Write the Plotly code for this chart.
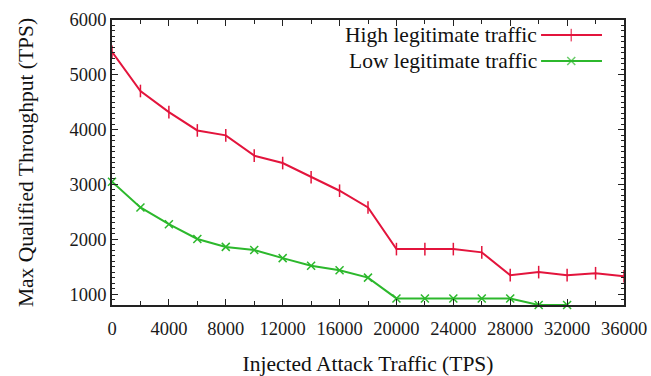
import plotly.graph_objects as go

x_attack = [0, 2000, 4000, 6000, 8000, 10000, 12000, 14000, 16000, 18000,
            20000, 22000, 24000, 26000, 28000, 30000, 32000, 34000, 36000]
high_traffic = [5420, 4705, 4320, 3985, 3895, 3525, 3390, 3130, 2885, 2580,
                1820, 1820, 1820, 1760, 1345, 1400, 1345, 1380, 1325]
x_attack_low = [0, 2000, 4000, 6000, 8000, 10000, 12000, 14000, 16000, 18000,
                20000, 22000, 24000, 26000, 28000, 30000, 32000]
low_traffic = [3050, 2580, 2275, 2005, 1860, 1805, 1655, 1515, 1435, 1300,
               920, 920, 920, 920, 920, 800, 800]
series_names = ["High legitimate traffic", "Low legitimate traffic"]
x_ticks = [0, 4000, 8000, 12000, 16000, 20000, 24000, 28000, 32000, 36000]
y_ticks = [1000, 2000, 3000, 4000, 5000, 6000]

RED = "#e3143c"
GREEN = "#2cb82c"
FONT = "Liberation Serif"

fig = go.Figure()
fig.add_trace(go.Scatter(x=x_attack, y=high_traffic, mode="lines+markers",
                         line=dict(color=RED, width=2),
                         marker=dict(symbol="line-ns", size=9, line=dict(color=RED, width=1.5)),
                         showlegend=False, cliponaxis=False))
fig.add_trace(go.Scatter(x=x_attack_low, y=low_traffic, mode="lines+markers",
                         line=dict(color=GREEN, width=2),
                         marker=dict(symbol="x-thin", size=8, line=dict(color=GREEN, width=1.5)),
                         showlegend=False, cliponaxis=False))

# manual legend (text right-aligned, sample to the right, gnuplot style)
leg_y = [0.947, 0.856]
for name, col, sym, sz, yy in [(series_names[0], RED, "line-ns", 9, leg_y[0]),
                               (series_names[1], GREEN, "x-thin", 8, leg_y[1])]:
    fig.add_annotation(xref="paper", yref="paper", x=0.834, y=yy, text=name,
                       showarrow=False, xanchor="right", yanchor="middle",
                       font=dict(family=FONT, size=21.5, color="#111"))
    fig.add_trace(go.Scatter(x=[0.838, 0.897, 0.957], y=[yy, yy, yy], xaxis="x2", yaxis="y2",
                             mode="lines+markers", line=dict(color=col, width=2),
                             marker=dict(symbol=sym, size=[0, sz, 0],
                                         line=dict(color=col, width=1.5)),
                             showlegend=False, hoverinfo="skip"))

axis_common = dict(showline=True, linecolor="#222", linewidth=1.5, mirror="ticks",
                   ticks="inside", ticklen=6, tickwidth=1.2, tickcolor="#222",
                   showgrid=False, zeroline=False, automargin=False,
                   tickfont=dict(family=FONT, size=18.5, color="#1a1a1a"))

fig.update_layout(
    width=651, height=376,
    margin=dict(l=112, r=27, t=20, b=71),
    paper_bgcolor="white", plot_bgcolor="white",
    xaxis=dict(range=[0, 36000], tickvals=x_ticks, ticktext=[str(v) for v in x_ticks],
               ticklabelstandoff=6,
               minor=dict(dtick=2000, ticks="inside", ticklen=4, tickcolor="#222"),
               title=dict(text="Injected Attack Traffic (TPS)", standoff=18,
                          font=dict(family=FONT, size=21.5, color="#111")),
               **axis_common),
    yaxis=dict(range=[800, 6000], tickvals=y_ticks, ticktext=[str(v) for v in y_ticks],
               minor=dict(dtick=100, tick0=0, ticks="inside", ticklen=3, tickcolor="#222"),
               title=dict(text="Max Qualified Throughput (TPS)", standoff=30,
                          font=dict(family=FONT, size=21.5, color="#111")),
               **axis_common),
    xaxis2=dict(overlaying="x", range=[0, 1], visible=False),
    yaxis2=dict(overlaying="y", range=[0, 1], visible=False),
)

fig.write_html("out.html")
